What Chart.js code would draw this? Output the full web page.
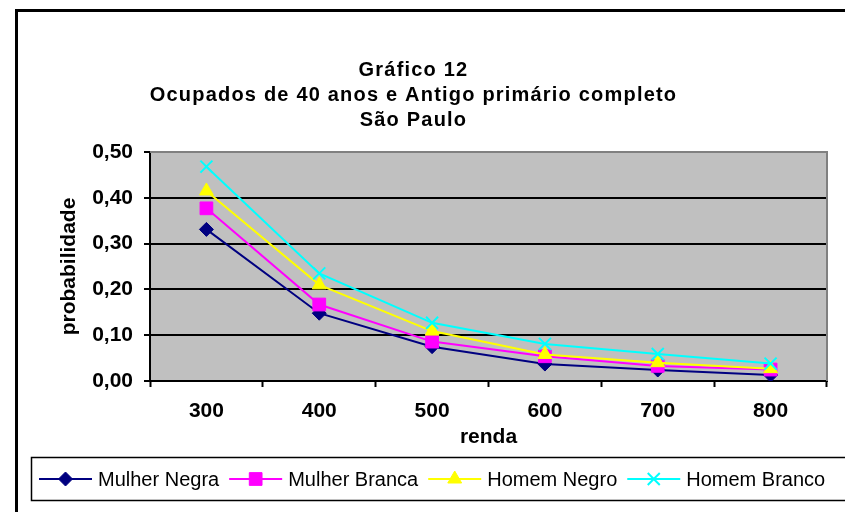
<!DOCTYPE html>
<html>
<head>
<meta charset="utf-8">
<script src="https://cdn.jsdelivr.net/npm/chart.js@4.4.1/dist/chart.umd.min.js"></script>
<style>
  body { margin: 0; background: #fff; }
  canvas { display: block; }
</style>
</head>
<body>
<canvas id="chart" width="845" height="512"></canvas>
<script>
// Chart data
const rendas = ['300', '400', '500', '600', '700', '800'];
const mulherNegra = [0.331, 0.148, 0.075, 0.037, 0.024, 0.013];
const mulherBranca = [0.377, 0.167, 0.086, 0.054, 0.033, 0.025];
const homemNegro = [0.415, 0.210, 0.109, 0.058, 0.040, 0.027];
const homemBranco = [0.468, 0.235, 0.127, 0.081, 0.059, 0.038];
const titleLines = ['Gráfico 12', 'Ocupados de 40 anos e Antigo primário completo', 'São Paulo'];

const FONT = "'Liberation Sans', Arial, sans-serif";

function makeSeries(label, data, color, pointStyle, radius, order) {
    return {
        label: label,
        data: data,
        borderColor: color,
        backgroundColor: color,
        borderWidth: 2,
        pointStyle: pointStyle,
        pointRadius: radius,
        pointHoverRadius: radius,
        pointBorderWidth: pointStyle === 'crossRot' ? 2 : 1,
        tension: 0,
        order: order
    };
}

// later series drawn on top, like the original
const datasets = [
    makeSeries('Mulher Negra', mulherNegra, '#000080', 'rectRot', 7, 3),
    makeSeries('Mulher Branca', mulherBranca, '#FF00FF', 'rect', 9, 2),
    makeSeries('Homem Negro', homemNegro, '#FFFF00', 'triangle', 8, 1),
    makeSeries('Homem Branco', homemBranco, '#00FFFF', 'crossRot', 8.5, 0)
];

function drawMarker(ctx, ds, x, y) {
    ctx.save();
    ctx.fillStyle = ds.borderColor;
    ctx.strokeStyle = ds.borderColor;
    ctx.lineWidth = ds.pointBorderWidth;
    Chart.helpers.drawPoint(ctx, {
        pointStyle: ds.pointStyle,
        radius: ds.pointRadius,
        borderWidth: ds.pointBorderWidth
    }, x, y);
    ctx.restore();
}

// Background, plot area fill, frame and legend
const decorations = {
    id: 'decorations',
    afterInit(chart) {
        // the original title is drawn with wide letter spacing
        const tb = chart.titleBlock;
        if (tb) {
            const orig = tb.draw.bind(tb);
            tb.draw = function () {
                chart.ctx.save();
                chart.ctx.letterSpacing = '1.2px';
                orig();
                chart.ctx.restore();
            };
        }
    },
    beforeDraw(chart) {
        const ctx = chart.ctx;
        const a = chart.chartArea;
        ctx.save();
        ctx.fillStyle = '#fff';
        ctx.fillRect(0, 0, chart.width, chart.height);
        ctx.fillStyle = '#C0C0C0';
        ctx.fillRect(a.left, a.top, a.right - a.left, a.bottom - a.top);
        ctx.restore();
    },
    beforeDatasetsDraw(chart) {
        const ctx = chart.ctx;
        const a = chart.chartArea;
        ctx.save();
        ctx.strokeStyle = '#808080';
        ctx.lineWidth = 2;
        ctx.beginPath();
        ctx.moveTo(a.left, a.top);
        ctx.lineTo(a.right, a.top);
        ctx.lineTo(a.right, a.bottom);
        ctx.stroke();
        ctx.restore();
    },
    afterDraw(chart) {
        const ctx = chart.ctx;
        ctx.save();
        // outer frame
        ctx.strokeStyle = '#000';
        ctx.lineWidth = 3;
        ctx.strokeRect(16.5, 10.5, 900, 600);

        // legend box
        ctx.lineWidth = 1.5;
        ctx.strokeRect(31.5, 457.5, 830, 43);

        ctx.font = '20px ' + FONT;
        ctx.textBaseline = 'middle';
        let x = 39;
        const y = 479;
        chart.data.datasets.forEach(ds => {
            ctx.strokeStyle = ds.borderColor;
            ctx.lineWidth = 2;
            ctx.beginPath();
            ctx.moveTo(x, y);
            ctx.lineTo(x + 53, y);
            ctx.stroke();
            drawMarker(ctx, ds, x + 26.5, y);
            ctx.fillStyle = '#000';
            ctx.fillText(ds.label, x + 59, y + 1);
            x += 59 + ctx.measureText(ds.label).width + 10;
        });
        ctx.restore();
    }
};

new Chart(document.getElementById('chart'), {
    type: 'line',
    data: {
        labels: rendas,
        datasets: datasets
    },
    options: {
        responsive: false,
        animation: false,
        devicePixelRatio: 1,
        layout: {
            padding: { left: 0, right: 18, top: 0, bottom: 62 }
        },
        plugins: {
            legend: { display: false },
            tooltip: { enabled: false },
            title: {
                display: true,
                text: titleLines,
                color: '#000',
                font: { family: FONT, size: 20, weight: 'bold', lineHeight: '25px' },
                padding: { top: 58, bottom: 19 }
            }
        },
        scales: {
            x: {
                offset: true,
                afterFit(scale) { scale.height = 69; },
                border: { color: '#000', width: 2 },
                grid: {
                    offset: true,
                    drawOnChartArea: false,
                    tickLength: 6,
                    tickColor: '#000',
                    tickWidth: 2
                },
                ticks: {
                    color: '#000',
                    padding: 12,
                    font: { family: FONT, size: 21, weight: 'bold' }
                },
                title: {
                    display: true,
                    text: 'renda',
                    color: '#000',
                    font: { family: FONT, size: 21, weight: 'bold', lineHeight: '22px' },
                    padding: { top: 2, bottom: 2 }
                }
            },
            y: {
                min: 0,
                max: 0.5,
                afterFit(scale) { scale.width = 150; },
                border: { color: '#000', width: 2 },
                grid: {
                    color: c => (c.tick && c.tick.value >= 0.5 ? '#808080' : '#000'),
                    lineWidth: 2,
                    tickLength: 6,
                    tickColor: '#000',
                    tickWidth: 2
                },
                ticks: {
                    stepSize: 0.1,
                    color: '#000',
                    padding: 11,
                    font: { family: FONT, size: 21, weight: 'bold' },
                    callback: v => v.toFixed(2).replace('.', ',')
                },
                title: {
                    display: true,
                    text: 'probabilidade',
                    color: '#000',
                    font: { family: FONT, size: 21, weight: 'bold', lineHeight: '22px' },
                    padding: { top: 58, bottom: 0 }
                }
            }
        }
    },
    plugins: [decorations]
});
</script>
</body>
</html>
